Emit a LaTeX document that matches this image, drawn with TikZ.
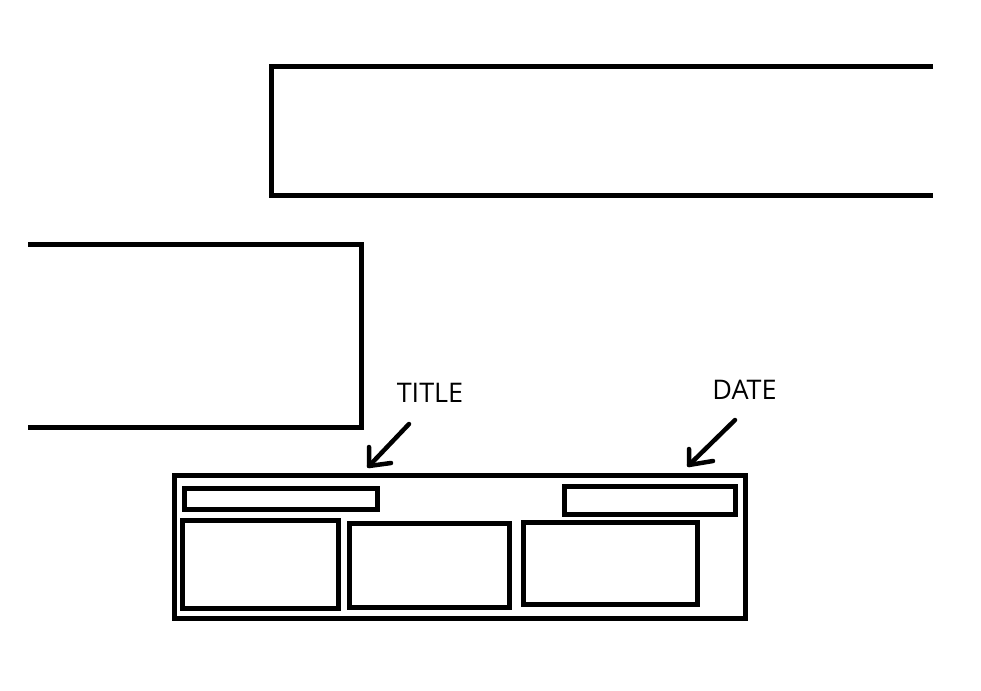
\documentclass[tikz,border=0pt]{standalone}
\usepackage{fontspec}
\setmainfont{Open Sans}
\begin{document}
\begin{tikzpicture}[x=1pt,y=-1pt,
  frame/.style={draw=black,line width=5pt,line join=miter},
  pointer/.style={draw=black,line width=4.5pt,line cap=round,line join=round},
  lbl/.style={inner sep=0pt,font=\fontsize{27}{30}\selectfont}]
\useasboundingbox (0,0) rectangle (981,690);
% top open box
\draw[frame] (933,66.5) -- (271.5,66.5) -- (271.5,195.5) -- (933,195.5);
% left open box
\draw[frame] (28,244.5) -- (361.5,244.5) -- (361.5,427) -- (28,427);
% labels
\node[lbl] (title) at (430,393) {TITLE};
\node[lbl] (date) at (744.5,389.5) {DATE};
% main box
\draw[frame] (174.5,475.5) rectangle (745.5,618);
\draw[frame] (184.5,488.5) rectangle (377.5,509.5);
\draw[frame] (564.5,486.5) rectangle (735.5,514.5);
\draw[frame] (182.5,520.5) rectangle (338.5,608.5);
\draw[frame] (349.5,523.5) rectangle (509.5,607.5);
\draw[frame] (523.5,522.5) rectangle (697.5,604.5);
% arrows
\coordinate (ttail) at (409,424);
\coordinate (ttip) at (369,466);
\coordinate (dtail) at (735,420);
\coordinate (dtip) at (689,465);
\draw[pointer] (ttail) -- (ttip);
\draw[pointer] (369,447) -- (ttip) -- (391,463);
\draw[pointer] (dtail) -- (dtip);
\draw[pointer] (689,449) -- (dtip) -- (713,461);
\end{tikzpicture}
\end{document}
